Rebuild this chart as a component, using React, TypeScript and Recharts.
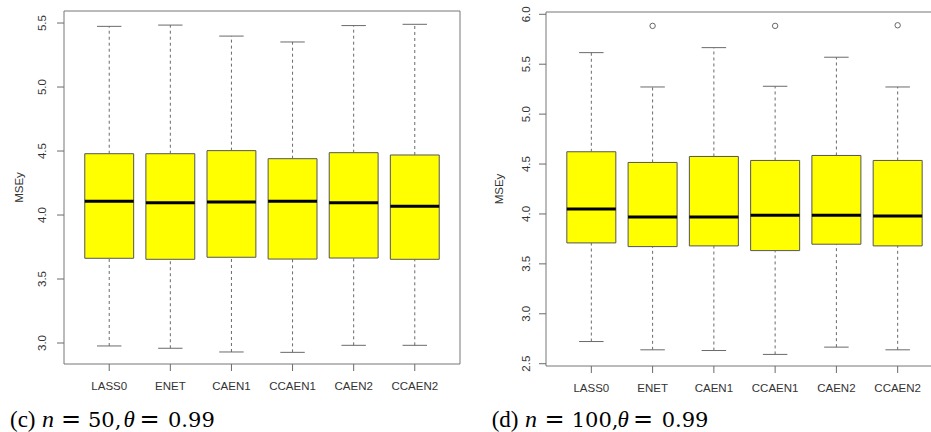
import React from 'react';
import { ComposedChart, XAxis, YAxis, ReferenceArea, ReferenceLine, Scatter } from 'recharts';

const categories = ['LASS0', 'ENET', 'CAEN1', 'CCAEN1', 'CAEN2', 'CCAEN2'];

// Panel (c): n = 50
const leftWhiskerLow = [2.977, 2.959, 2.93, 2.927, 2.982, 2.982];
const leftQ1 = [3.662, 3.654, 3.67, 3.656, 3.664, 3.654];
const leftMedian = [4.107, 4.096, 4.102, 4.107, 4.096, 4.068];
const leftQ3 = [4.479, 4.479, 4.503, 4.44, 4.487, 4.469];
const leftWhiskerHigh = [5.474, 5.484, 5.398, 5.352, 5.48, 5.49];
const leftOutliers: { x: number; y: number }[] = [];
const leftYTicks = [3.0, 3.5, 4.0, 4.5, 5.0, 5.5];

// Panel (d): n = 100
const rightWhiskerLow = [2.722, 2.639, 2.632, 2.593, 2.666, 2.639];
const rightQ1 = [3.71, 3.673, 3.68, 3.633, 3.697, 3.68];
const rightMedian = [4.05, 3.97, 3.97, 3.987, 3.987, 3.98];
const rightQ3 = [4.623, 4.516, 4.576, 4.536, 4.586, 4.536];
const rightWhiskerHigh = [5.616, 5.272, 5.666, 5.279, 5.57, 5.272];
const rightOutliers = [
  { x: 2, y: 5.884 },
  { x: 4, y: 5.884 },
  { x: 6, y: 5.89 },
];
const rightYTicks = [2.5, 3.0, 3.5, 4.0, 4.5, 5.0, 5.5, 6.0];

const X_DOMAIN: [number, number] = [0.26, 6.74];
const AXIS_FONT = '"Liberation Sans", Arial, Helvetica, sans-serif';
const LINE = '#6a6a6a';

const RotTick = (props: any) => {
  const { x, y, payload } = props;
  return (
    <text
      x={x}
      y={y}
      transform={`rotate(-90, ${x}, ${y})`}
      textAnchor="middle"
      fontSize={11.5}
      fontFamily={AXIS_FONT}
      fill="#333"
    >
      {Number(payload.value).toFixed(1)}
    </text>
  );
};

type PanelProps = {
  low: number[];
  q1: number[];
  med: number[];
  q3: number[];
  high: number[];
  outliers: { x: number; y: number }[];
  yDomain: [number, number];
  yTicks: number[];
  width: number;
  height: number;
  margin: { top: number; right: number; bottom: number; left: number };
  yAxisWidth: number;
  yTickMargin: number;
  labelOffset: number;
};

function BoxPanel(p: PanelProps) {
  const pos = categories.map((_, i) => i + 1);
  const labelContent = (lp: any) => {
    const vb = lp.viewBox || {};
    const lx = vb.x + vb.width - p.labelOffset;
    const ly = vb.y + vb.height / 2;
    return (
      <text
        x={lx}
        y={ly}
        transform={`rotate(-90, ${lx}, ${ly})`}
        textAnchor="middle"
        fontSize={11.5}
        fontFamily={AXIS_FONT}
        fill="#333"
      >
        MSEy
      </text>
    );
  };
  return (
    <ComposedChart width={p.width} height={p.height} margin={p.margin}>
      <XAxis
        type="number"
        dataKey="x"
        domain={X_DOMAIN}
        ticks={pos}
        interval={0}
        allowDataOverflow
        tickFormatter={(v: number) => categories[v - 1]}
        axisLine={false}
        tickSize={7}
        tickMargin={11}
        height={30}
        tick={{ fontSize: 11.5, fill: '#333', fontFamily: AXIS_FONT }}
        tickLine={{ stroke: LINE }}
      />
      <YAxis
        type="number"
        dataKey="y"
        domain={p.yDomain}
        ticks={p.yTicks}
        interval={0}
        allowDataOverflow
        axisLine={false}
        tickSize={7}
        tickMargin={p.yTickMargin}
        width={p.yAxisWidth}
        tick={<RotTick />}
        tickLine={{ stroke: LINE }}
        label={{ content: labelContent }}
      />
      {pos.map((x, i) => (
        <ReferenceLine
          key={`wu${i}`}
          segment={[{ x, y: p.q3[i] }, { x, y: p.high[i] }]}
          stroke={LINE}
          strokeDasharray="3 3"
        />
      ))}
      {pos.map((x, i) => (
        <ReferenceLine
          key={`wl${i}`}
          segment={[{ x, y: p.low[i] }, { x, y: p.q1[i] }]}
          stroke={LINE}
          strokeDasharray="3 3"
        />
      ))}
      {pos.map((x, i) => (
        <ReferenceLine
          key={`cu${i}`}
          segment={[{ x: x - 0.2, y: p.high[i] }, { x: x + 0.2, y: p.high[i] }]}
          stroke={LINE}
        />
      ))}
      {pos.map((x, i) => (
        <ReferenceLine
          key={`cl${i}`}
          segment={[{ x: x - 0.2, y: p.low[i] }, { x: x + 0.2, y: p.low[i] }]}
          stroke={LINE}
        />
      ))}
      {pos.map((x, i) => (
        <ReferenceArea
          key={`b${i}`}
          x1={x - 0.4}
          x2={x + 0.4}
          y1={p.q1[i]}
          y2={p.q3[i]}
          fill="#ffff00"
          fillOpacity={1}
          stroke="#555"
          strokeWidth={1}
        />
      ))}
      {pos.map((x, i) => (
        <ReferenceLine
          key={`m${i}`}
          segment={[{ x: x - 0.4, y: p.med[i] }, { x: x + 0.4, y: p.med[i] }]}
          stroke="#000"
          strokeWidth={3}
        />
      ))}
      <ReferenceArea
        x1={X_DOMAIN[0]}
        x2={X_DOMAIN[1]}
        y1={p.yDomain[0]}
        y2={p.yDomain[1]}
        fill="none"
        fillOpacity={0}
        stroke="#777"
        strokeWidth={1}
      />
      <Scatter
        data={p.outliers}
        isAnimationActive={false}
        shape={(sp: any) => (
          <circle cx={sp.cx} cy={sp.cy} r={2.7} fill="none" stroke="#666" strokeWidth={1} />
        )}
      />
    </ComposedChart>
  );
}

const SERIF = '"Liberation Serif", "Times New Roman", serif';
const DIGITS = '"DejaVu Serif", serif';

type CapPos = { paren: number; n: number; eq1: number; num: number; theta: number; eq2: number; val: number };

function Caption({ label, num, at }: { label: string; num: string; at: CapPos }) {
  return (
    <text y={426.6} fill="#000">
      <tspan x={at.paren} fontFamily={SERIF} fontSize={23}>{label}</tspan>
      <tspan x={at.n} fontFamily={SERIF} fontSize={24} fontStyle="italic">n</tspan>
      <tspan x={at.eq1} fontFamily={DIGITS} fontSize={24}>=</tspan>
      <tspan x={at.num} fontFamily={DIGITS} fontSize={21}>{num},</tspan>
      <tspan x={at.theta} fontFamily={SERIF} fontSize={23} fontStyle="italic">θ</tspan>
      <tspan x={at.eq2} fontFamily={DIGITS} fontSize={24}>=</tspan>
      <tspan x={at.val} fontFamily={DIGITS} fontSize={21}>0.99</tspan>
    </text>
  );
}

export default function App() {
  return (
    <div
      style={{
        position: 'absolute',
        left: 0,
        top: 0,
        width: 931,
        height: 432,
        overflow: 'hidden',
        background: '#fff',
      }}
    >
      <div style={{ position: 'absolute', left: 0, top: 0 }}>
        <BoxPanel
          low={leftWhiskerLow}
          q1={leftQ1}
          med={leftMedian}
          q3={leftQ3}
          high={leftWhiskerHigh}
          outliers={leftOutliers}
          yDomain={[2.836, 5.594]}
          yTicks={leftYTicks}
          width={470}
          height={400}
          margin={{ top: 11, right: 10, bottom: 6, left: 0 }}
          yAxisWidth={64}
          yTickMargin={10.5}
          labelOffset={41.5}
        />
      </div>
      <div style={{ position: 'absolute', left: 470, top: 0 }}>
        <BoxPanel
          low={rightWhiskerLow}
          q1={rightQ1}
          med={rightMedian}
          q3={rightQ3}
          high={rightWhiskerHigh}
          outliers={rightOutliers}
          yDomain={[2.477, 6.023]}
          yTicks={rightYTicks}
          width={480}
          height={400}
          margin={{ top: 12, right: 7, bottom: 4, left: 0 }}
          yAxisWidth={76}
          yTickMargin={9}
          labelOffset={43}
        />
      </div>
      <svg
        width={931}
        height={432}
        style={{ position: 'absolute', left: 0, top: 0, pointerEvents: 'none' }}
      >
        <Caption
          label="(c)"
          num="50"
          at={{ paren: 10, n: 42, eq1: 61, num: 88, theta: 123.5, eq2: 139.5, val: 168 }}
        />
        <Caption
          label="(d)"
          num="100"
          at={{ paren: 491.7, n: 525, eq1: 544.5, num: 571.7, theta: 617.5, eq2: 633, val: 661.7 }}
        />
      </svg>
    </div>
  );
}
